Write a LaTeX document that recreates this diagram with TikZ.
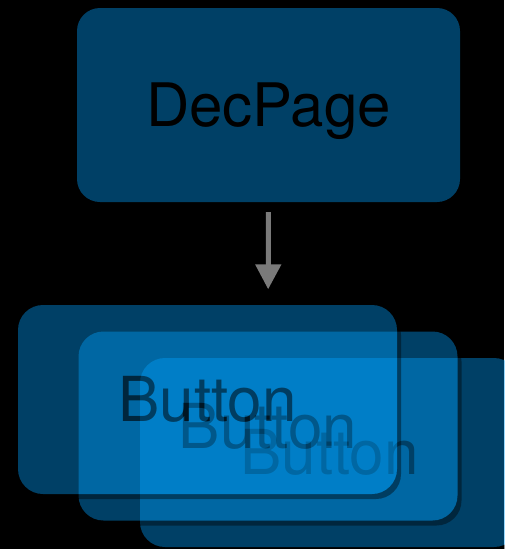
\documentclass[tikz,border=0pt]{standalone}
\usepackage{fontspec}
\setmainfont{TeX Gyre Heros}
\usetikzlibrary{arrows.meta,shadows}
\definecolor{keyblue}{HTML}{00A2FF}
\definecolor{arrowgray}{HTML}{7A7A7A}
\tikzset{
  card/.style={draw=none, fill=keyblue, rounded corners=25pt,
    minimum width=379pt, minimum height=189pt, inner sep=0pt,
    text=black, font=\fontsize{62}{62}\selectfont,
    text height=44pt, text depth=0pt,
    drop shadow={shadow xshift=4pt, shadow yshift=-5pt, opacity=1, fill=black}},
  layer/.style={transparency group, opacity=0.4},
  link/.style={draw=arrowgray, line width=5pt,
    -{Triangle[length=25pt,width=25pt]}},
}
\begin{document}
\begin{tikzpicture}[x=1pt,y=-1pt]
\fill[black] (0,0) rectangle (504,549);
\useasboundingbox (0,0) rectangle (504,549);

% parent component
\begin{scope}[layer]
  \node[card, rounded corners=23pt, minimum width=383pt, minimum height=194pt,
    font=\fontsize{60}{60}\selectfont, text height=43pt]
    (dec) at (268.5,105) {DecPage};
\end{scope}

% stack of child buttons, back to front, each one a translucent layer
\begin{scope}[layer]
  \node[card] (b3) at (329.5,452.5) {Button};
\end{scope}
\begin{scope}[layer]
  \node[card] (b2) at (268,426) {Button};
\end{scope}
\begin{scope}[layer]
  \node[card] (b1) at (207.5,399.5) {Button};
\end{scope}

\draw[link, shorten >=42pt, shorten <=10pt] (dec.south) -- (b2.north);
\end{tikzpicture}
\end{document}
